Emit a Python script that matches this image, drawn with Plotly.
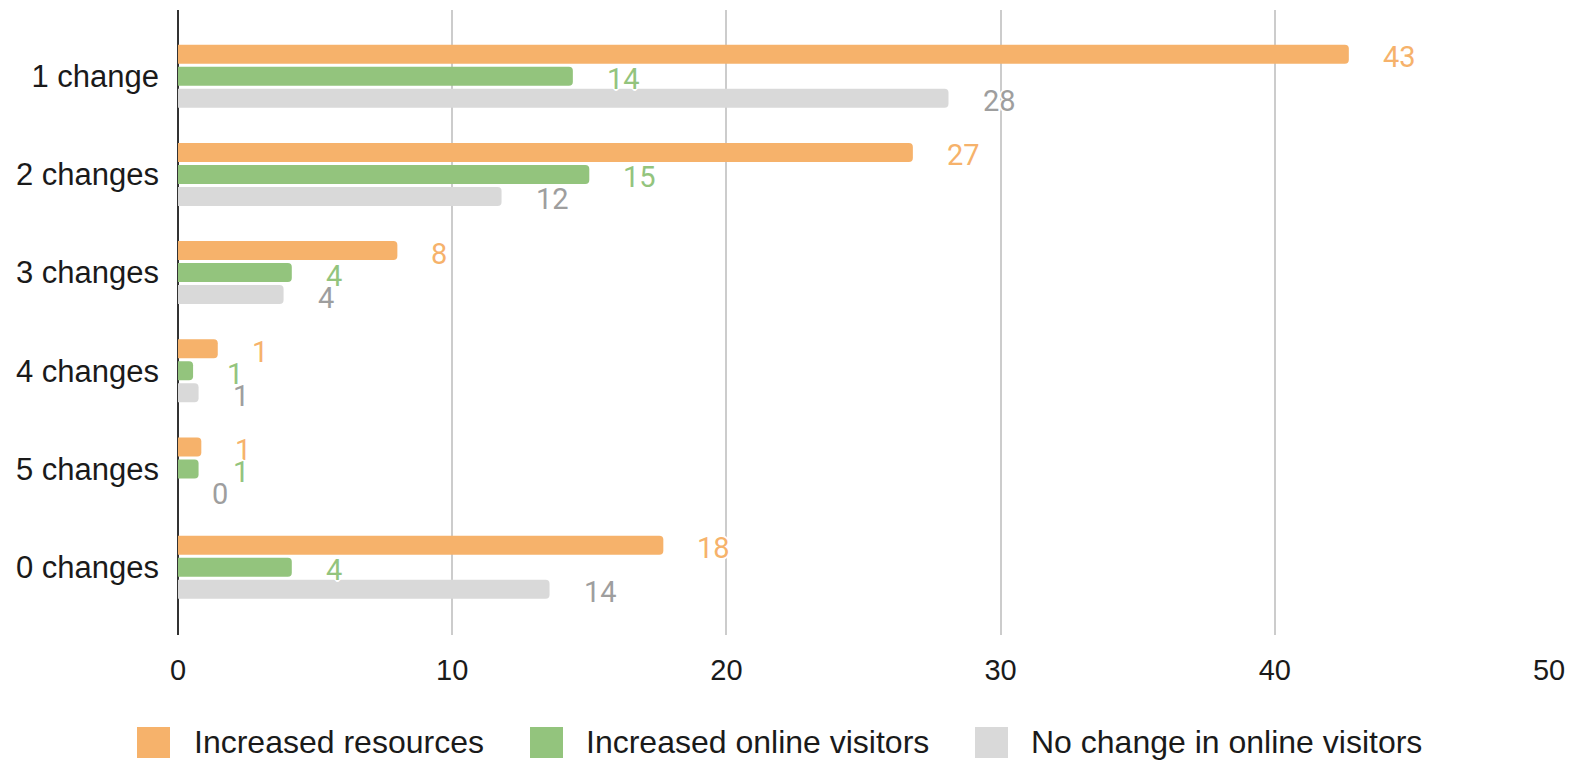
import plotly.graph_objects as go

# Number of changes made, top to bottom
categories = ["1 change", "2 changes", "3 changes", "4 changes", "5 changes", "0 changes"]

series_names = ["Increased resources", "Increased online visitors", "No change in online visitors"]
increased_resources = [42.7, 26.8, 8.0, 1.45, 0.85, 17.7]
increased_visitors = [14.4, 15.0, 4.15, 0.55, 0.75, 4.15]
no_change_visitors = [28.1, 11.8, 3.85, 0.75, 0.0, 13.55]

x_ticks = [0, 10, 20, 30, 40, 50]

series_values = [increased_resources, increased_visitors, no_change_visitors]
bar_colors = ["#f6b26b", "#93c47d", "#d9d9d9"]
label_colors = ["#f6b26b", "#93c47d", "#9e9e9e"]

W, H = 1580, 762
ML, MR, MT, MB = 178, 31, 10, 127
PW, PH = W - ML - MR, H - MT - MB


def px_x(px):
    return (px - ML) / PW


def px_y(py):
    return (H - MB - py) / PH


fig = go.Figure()
for name, vals, col in zip(series_names, series_values, bar_colors):
    fig.add_trace(go.Bar(
        y=categories, x=vals, name=name, orientation="h",
        marker=dict(color=col, line=dict(width=0), cornerradius=4),
        showlegend=False, hoverinfo="x+y",
    ))

# Value labels beside each bar end
halo = "-1px -1px 0 #fff, 1px -1px 0 #fff, -1px 1px 0 #fff, 1px 1px 0 #fff, 0 2px 0 #fff, 2px 0 0 #fff, -2px 0 0 #fff, 0 -2px 0 #fff"
annotations = []
shifts = [22, 0, -22]
for vals, col, dy in zip(series_values, label_colors, shifts):
    for cat, v in zip(categories, vals):
        annotations.append(dict(
            x=v, y=cat, xref="x", yref="y", text=f"{v:.0f}",
            showarrow=False, xanchor="left", yanchor="middle",
            xshift=32, yshift=dy - 3,
            font=dict(family="Roboto", size=29, color=col, shadow=halo),
        ))

# Legend row below the axis
swatch_left = [137, 530, 975]
text_left = [192, 584, 1029]
shapes = []
for name, col, sx, tx in zip(series_names, bar_colors, swatch_left, text_left):
    shapes.append(dict(
        type="rect", xref="paper", yref="paper",
        x0=px_x(sx), x1=px_x(sx + 33), y0=px_y(758), y1=px_y(727),
        fillcolor=col, line=dict(width=0), layer="above",
    ))
    annotations.append(dict(
        x=px_x(tx), y=px_y(742), xref="paper", yref="paper", text=name,
        showarrow=False, xanchor="left", yanchor="middle",
        font=dict(family="Liberation Sans", size=32, color="#1a1a1a"),
    ))

fig.update_layout(
    width=W, height=H,
    margin=dict(l=ML, r=MR, t=MT, b=MB, pad=0),
    paper_bgcolor="white", plot_bgcolor="white",
    barmode="group", bargap=0.328, bargroupgap=0.136,
    showlegend=False,
    font=dict(family="Liberation Sans", size=29, color="#1a1a1a"),
    annotations=annotations, shapes=shapes,
    xaxis=dict(
        range=[0, 50], tickvals=x_ticks, ticktext=[str(t) for t in x_ticks],
        showgrid=True, gridcolor="#cccccc", gridwidth=1.5,
        zeroline=True, zerolinecolor="#333333", zerolinewidth=2,
        showline=False, ticks="", ticklabelstandoff=15,
        tickfont=dict(family="Liberation Sans", size=29, color="#1a1a1a"),
        fixedrange=True,
    ),
    yaxis=dict(
        type="category", categoryorder="array", categoryarray=categories,
        range=[5.69, -0.674],
        showgrid=False, zeroline=False, showline=False, ticks="",
        ticklabelstandoff=18,
        tickfont=dict(family="Liberation Sans", size=31, color="#1a1a1a"),
        fixedrange=True,
    ),
)

fig.write_html("out.html", config={"displayModeBar": False})
